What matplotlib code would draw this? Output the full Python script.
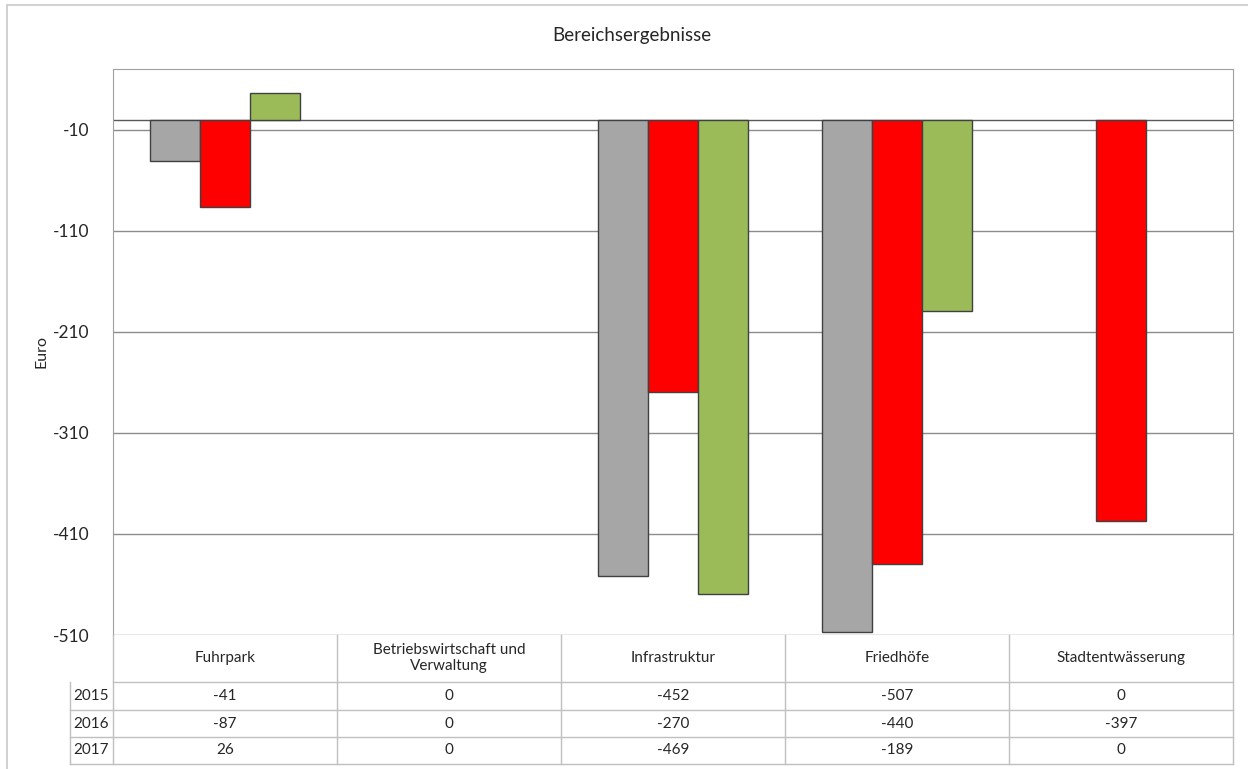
import matplotlib
matplotlib.use("Agg")
import matplotlib.pyplot as plt
import numpy as np

plt.rcParams["font.family"] = ["Lato", "DejaVu Sans"]

# ── Data ──────────────────────────────────────────────────────────────────────
categories = ["Fuhrpark", "Betriebswirtschaft und\nVerwaltung", "Infrastruktur",
              "Friedhöfe", "Stadtentwässerung"]
years = ["2015", "2016", "2017"]
v2015 = [-41, 0, -452, -507, 0]
v2016 = [-87, 0, -270, -440, -397]
v2017 = [26, 0, -469, -189, 0]
yticks = [-510, -410, -310, -210, -110, -10]

# ── Style constants ───────────────────────────────────────────────────────────
COLORS = ["#A6A6A6", "#FF0000", "#9BBB59"]
EDGE = "#404040"
GRID = "#8C8C8C"
TABLE = "#BFBFBF"
TEXT = "#262626"

W, H = 1248, 769
fig = plt.figure(figsize=(W / 100, H / 100), dpi=100)


def px(x0, y0, x1, y1):
    """Pixel box (top-left origin) -> figure axes rect."""
    return [x0 / W, 1 - y1 / H, (x1 - x0) / W, (y1 - y0) / H]


# outer chart border
fig.add_artist(plt.Rectangle((7 / W, -0.1), 1.2, 1 - 5 / H + 0.1,
                             transform=fig.transFigure, fill=False,
                             edgecolor="#C8C8C8", lw=1.2))

ax = fig.add_axes(px(113, 69, 1233, 635))
idx = np.arange(len(categories))
bw = 0.223
for k, vals in enumerate([v2015, v2016, v2017]):
    # zero-height bars leave no visible outline, as in the original
    lws = [1.0 if v != 0 else 0 for v in vals]
    ax.bar(idx + (k - 1) * bw, vals, width=bw, color=COLORS[k],
           edgecolor=EDGE, lw=lws, zorder=3, label=years[k])

ax.set_xlim(-0.5, len(categories) - 0.5)
ax.set_ylim(-510, 50)
ax.set_yticks(yticks)
ax.set_yticklabels([str(t) for t in yticks], fontsize=12.5, color=TEXT)
ax.tick_params(axis="y", length=0, pad=17)
ax.set_xticks([])
for t in yticks:
    ax.axhline(t, color=GRID, lw=1.0, zorder=1)
ax.axhline(0, color="#595959", lw=1.0, zorder=2)
for s in ["top", "left", "right"]:
    ax.spines[s].set_color("#A0A0A0")
ax.spines["bottom"].set_visible(False)
ax.set_ylabel("Euro", fontsize=11.5, color=TEXT)
ax.yaxis.set_label_coords(-0.058, 0.5)

fig.text(632 / W, 1 - 35 / H, "Bereichsergebnisse", ha="center",
         va="center", fontsize=13.5, color=TEXT)

# ── Data table ────────────────────────────────────────────────────────────────
tab = fig.add_axes(px(113, 635, 1233, 764))
tab.set_xlim(-0.5, len(categories) - 0.5)
tab.set_ylim(764, 635)
tab.axis("off")
left = -0.5 - 43 / 224
row_lines = [635, 682, 710, 737, 764]
kw = dict(color=TABLE, lw=1.0, clip_on=False)
tab.plot([-0.5, 4.5], [682, 682], **kw)
for y in row_lines[2:]:
    tab.plot([left, 4.5], [y, y], **kw)
for x in np.arange(-0.5, 5.0, 1.0):
    tab.plot([x, x], [635, 764], **kw)
tab.plot([left, left], [682, 764], **kw)

for i, cat in enumerate(categories):
    tab.text(i, 658, cat, ha="center", va="center", fontsize=11,
             color=TEXT, linespacing=1.25)
for r, (yr, vals) in enumerate(zip(years, [v2015, v2016, v2017])):
    yc = (row_lines[r + 1] + row_lines[r + 2]) / 2
    tab.text((left - 0.5) / 2, yc, yr, ha="center", va="center",
             fontsize=11, color=TEXT)
    for i, v in enumerate(vals):
        tab.text(i, yc, str(v), ha="center", va="center", fontsize=11,
                 color=TEXT)

fig.savefig("out.png", dpi=100)
